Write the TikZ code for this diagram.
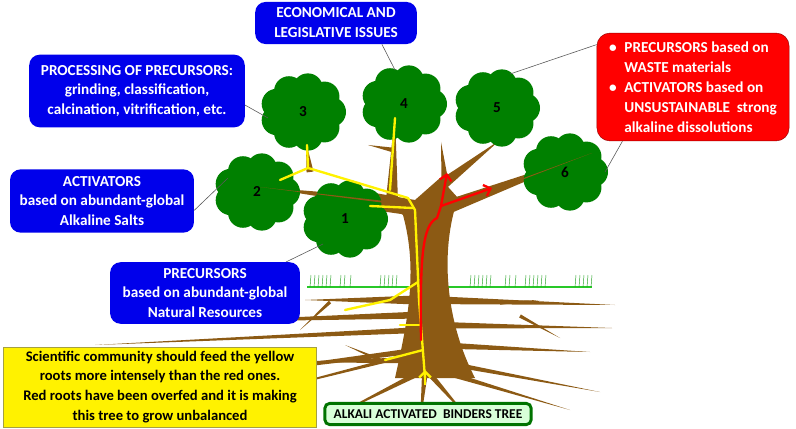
\documentclass[tikz,border=0pt]{standalone}
\usepackage{fontspec}
\setmainfont{Carlito}
\usetikzlibrary{positioning,arrows.meta,calc}
\definecolor{leafgreen}{RGB}{0,128,0}
\definecolor{bark}{RGB}{140,90,20}
\definecolor{boxblue}{RGB}{0,0,235}
\definecolor{grassgreen}{RGB}{40,200,40}
\tikzset{
  bluebox/.style={rectangle,rounded corners=9pt,fill=boxblue,text=white,
    font=\fontsize{13}{17}\selectfont\bfseries,align=center,inner sep=5pt},
  link/.style={gray!70!black,line width=0.5pt},
  feedyellow/.style={yellow,line width=2pt,line cap=round,line join=round},
  feedred/.style={red,line width=2pt,line cap=round,line join=round,-{Straight Barb[length=5pt]}},
}
% leaf cloud: centre, label, name
\newcommand\leafcloud[3]{%
  \fill[leafgreen] (#1) ellipse[x radius=32,y radius=30];
  \foreach \a in {0,40,...,320}
    \fill[leafgreen] ($(#1)+(\a:28 and 24)$) circle[radius=15];
  \node[font=\bfseries\fontsize{13}{13}\selectfont] (#3) at (#1) {#2};
}
% tapered root or branch: start, end, half width at start
\newcommand\limb[3]{%
  \fill[bark] ($(#1)!#3!90:(#2)$) -- (#2) -- ($(#1)!#3!-90:(#2)$) -- cycle;
}
\begin{document}
\begin{tikzpicture}[x=0.03cm,y=-0.03cm]
\useasboundingbox (0,0) rectangle (796,429);

% roots
\limb{420,300}{305,300}{4pt}
\limb{420,315}{190,322}{3pt}
\limb{420,330}{95,345}{2.5pt}
\limb{420,350}{150,385}{2.5pt}
\limb{425,360}{290,362}{3pt}
\limb{425,370}{330,418}{2.5pt}
\limb{428,350}{240,398}{2pt}
\limb{430,325}{612,328}{3pt}
\limb{430,300}{615,305}{3.5pt}
\limb{432,345}{590,352}{3pt}
\limb{430,360}{600,392}{2.5pt}
\limb{430,368}{570,410}{2.5pt}
\limb{428,372}{470,420}{2.5pt}
\limb{425,372}{420,425}{2.5pt}
\limb{330,302}{300,330}{1.5pt}
\limb{520,316}{560,338}{1.5pt}
\limb{500,303}{540,300}{1.5pt}
\limb{380,360}{345,345}{1.5pt}

% grass
\draw[grassgreen,line width=1pt] (307,287) -- (592,287);
\foreach \x in {310,314,...,330,340,344,350,380,384,...,396,470,474,...,490,505,509,515,525,529,...,545,575,579,...,591}
  \draw[grassgreen!80!black,line width=0.4pt] (\x,287) -- (\x+1,275);

% trunk
\fill[bark] (395,378) .. controls (408,320) and (418,270) .. (403,215)
  -- (375,193) -- (415,200) -- (440,178) -- (458,198)
  .. controls (440,250) and (445,320) .. (475,378) -- cycle;

% branches
\limb{410,205}{260,187}{5pt}
\limb{310,172}{306,142}{3pt}
\limb{412,212}{352,207}{3pt}
\limb{392,198}{395,115}{5pt}
\limb{393,150}{368,145}{2pt}
\limb{438,188}{500,140}{5pt}
\limb{445,182}{441,142}{3pt}
\limb{445,208}{592,153}{6pt}
\limb{545,170}{546,140}{3pt}

% leaves
\leafcloud{303,112}{3}{leaf3}
\leafcloud{404,104}{4}{leaf4}
\leafcloud{497,108}{5}{leaf5}
\leafcloud{565,172}{6}{leaf6}
\leafcloud{257,192}{2}{leaf2}
\leafcloud{345,219}{1}{leaf1}

% branch tips over the leaves
\limb{445,208}{592,153}{1pt}
\limb{410,205}{260,187}{1pt}

% yellow sap lines
\draw[feedyellow] (425,378) -- (419,300) -- (415,210) -- (408,198) -- (315,170) -- (308,168) -- (307,145);
\draw[feedyellow] (308,168) -- (280,180);
\draw[feedyellow] (413,208) -- (370,206);
\draw[feedyellow] (390,190) -- (395,118);
\draw[feedyellow] (418,282) -- (390,300) -- (345,310);
\draw[feedyellow] (420,325) -- (400,325);
\draw[feedyellow] (423,350) -- (385,360);
\draw[yellow,line width=2pt,-{Straight Barb[length=5pt]}] (425,385) -- (425,370);

% red sap lines
\draw[feedred] (421,340) .. controls (420,260) and (422,225) .. (437,218) -- (441,206) -- (447,173);
\draw[feedred] (441,206) -- (492,188);

% boxes
\node[bluebox,minimum width=138pt,minimum height=36pt] (econ) at (336,23) {ECONOMICAL AND\\LEGISLATIVE ISSUES};
\node[bluebox,minimum width=184pt,minimum height=62pt] (proc) at (137,91) {PROCESSING OF PRECURSORS:\\grinding, classification,\\calcination, vitrification, etc.};
\node[bluebox,minimum width=157pt,minimum height=54pt] (actv) at (102,201) {ACTIVATORS\\based on abundant-global\\Alkaline Salts};
\node[bluebox,minimum width=162pt,minimum height=50pt] (prec) at (205,293) {PRECURSORS\\based on abundant-global\\Natural Resources};
\node[rectangle,rounded corners=11pt,fill=red,draw=red!60!black,text=white,
  font=\fontsize{13}{17}\selectfont\bfseries,align=left,minimum width=164pt,minimum height=92pt,inner sep=4pt]
  (waste) at (693,87) {\textbullet\enspace PRECURSORS based on\\\phantom{\textbullet}\enspace WASTE materials\\
  \textbullet\enspace ACTIVATORS based on\\\phantom{\textbullet}\enspace UNSUSTAINABLE\ \ strong\\\phantom{\textbullet}\enspace alkaline dissolutions};
\node[rectangle,fill=yellow,draw=yellow!60!black,line width=0.4pt,font=\fontsize{12.5}{17}\selectfont\bfseries,
  align=center,minimum width=267pt,minimum height=64pt] (note) at (160,387)
  {Scientific community should feed the yellow\\roots more intensely than the red ones.\\Red roots have been overfed and it is making\\this tree to grow unbalanced};
\node[rectangle,rounded corners=4pt,fill=green!15,draw=green!45!black,line width=2.5pt,
  font=\fontsize{11.5}{12}\selectfont\bfseries,minimum width=176pt,minimum height=18pt] (title) at (428,414)
  {ALKALI ACTIVATED\ \ BINDERS TREE};

% connectors
\coordinate (c4) at (395,70);
\coordinate (c3) at (268,118);
\coordinate (c2) at (228,178);
\coordinate (c1) at (323,244);
\coordinate (c5) at (510,74);
\coordinate (c6) at (605,172);
\draw[link] ([xshift=-30pt]econ.south east) -- (c4);
\draw[link] ([yshift=-12pt]proc.east) -- (c3);
\draw[link] ([yshift=-8pt]actv.east) -- (c2);
\draw[link] ([xshift=-12pt]prec.north east) -- (c1);
\draw[link] ([yshift=-10pt]waste.north west) -- (c5);
\draw[link] ([xshift=22pt]waste.south west) -- (c6);
\end{tikzpicture}
\end{document}
